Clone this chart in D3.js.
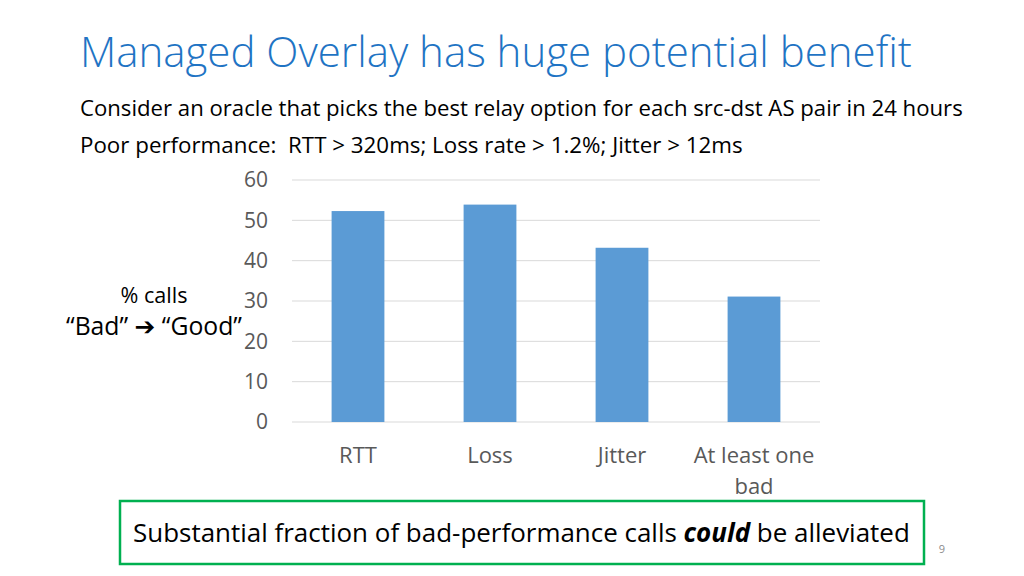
<!DOCTYPE html>
<html><head><meta charset="utf-8">
<script src="https://cdn.jsdelivr.net/npm/d3@7"></script>
<style>html,body{margin:0;padding:0;background:#fff;}svg{display:block;}</style>
</head><body>
<svg id="c" width="1024" height="576"></svg>
<script>
const categories = ["RTT", "Loss", "Jitter", "At least one bad"];
const values = [52.3, 53.9, 43.2, 31.1];
const yTicks = [0, 10, 20, 30, 40, 50, 60];
const title = "Managed Overlay has huge potential benefit";
const subtitle1 = "Consider an oracle that picks the best relay option for each src-dst AS pair in 24 hours";
const subtitle2 = "Poor performance:\u00A0 RTT > 320ms; Loss rate > 1.2%; Jitter > 12ms";

const svg = d3.select("#c");
const FONT = "'Open Sans', 'Noto Sans', sans-serif";

function fit(sel, targetW) {
  const node = sel.node();
  const w = node.getComputedTextLength();
  const fs = parseFloat(sel.attr("font-size"));
  sel.attr("font-size", (fs * targetW / w).toFixed(2));
  return sel;
}

// Title
fit(svg.append("text").attr("x", 80).attr("y", 67).attr("font-family", FONT)
  .attr("font-weight", 300).attr("font-size", 40).attr("fill", "#1F74C4").text(title), 832);
fit(svg.append("text").attr("x", 80).attr("y", 116).attr("font-family", FONT)
  .attr("font-size", 20).attr("fill", "#000").text(subtitle1), 883);
fit(svg.append("text").attr("x", 80).attr("y", 153).attr("font-family", FONT)
  .attr("font-size", 20).attr("fill", "#000").text(subtitle2), 663);

// Chart
const x = d3.scaleBand().domain(categories).range([292, 820]).paddingInner(0.6).paddingOuter(0.3);
const y = d3.scaleLinear().domain([0, 60]).range([422, 180]);

const g = svg.append("g");
g.selectAll("line.grid").data(yTicks).join("line").attr("class", "grid")
  .attr("x1", 292).attr("x2", 820).attr("y1", d => y(d)).attr("y2", d => y(d))
  .attr("stroke", "#D9D9D9").attr("stroke-width", 1);

const yAxis = g.append("g").attr("transform", "translate(292,0)")
  .call(d3.axisLeft(y).tickValues(yTicks).tickSize(0).tickPadding(24));
yAxis.select(".domain").remove();
yAxis.selectAll("text").attr("font-family", FONT).attr("font-size", 21).attr("fill", "#595959");

g.selectAll("rect.bar").data(values).join("rect").attr("class", "bar")
  .attr("x", (d, i) => x(categories[i])).attr("width", x.bandwidth())
  .attr("y", d => y(d)).attr("height", d => y(0) - y(d))
  .attr("fill", "#5B9BD5");

// category labels
const catFs = 22;
const catG = g.selectAll("text.cat").data(categories).join("text").attr("class", "cat")
  .attr("x", d => x(d) + x.bandwidth() / 2).attr("y", 463)
  .attr("text-anchor", "middle").attr("font-family", FONT).attr("font-size", catFs).attr("fill", "#595959");
catG.each(function(d) {
  const t = d3.select(this);
  if (d === "At least one bad") {
    t.append("tspan").attr("x", x(d) + x.bandwidth() / 2).text("At least one");
    t.append("tspan").attr("x", x(d) + x.bandwidth() / 2).attr("dy", 31).text("bad");
  } else t.text(d);
});

// y label
fit(svg.append("text").attr("x", 154).attr("y", 303).attr("text-anchor", "middle")
  .attr("font-family", FONT).attr("font-size", 20).attr("fill", "#000").text("% calls"), 67);
const yl2 = svg.append("text").attr("x", 66).attr("y", 335).attr("font-family", FONT)
  .attr("font-size", 20).attr("fill", "#000");
yl2.append("tspan").text("\u201CBad\u201D\u00A0");
yl2.append("tspan").attr("font-family", "DejaVu Sans").attr("font-weight", "bold").text("\u2794");
yl2.append("tspan").text("\u00A0\u201CGood\u201D");
fit(yl2, 176);

// Green box
svg.append("rect").attr("x", 120).attr("y", 501).attr("width", 804).attr("height", 63)
  .attr("fill", "none").attr("stroke", "#00B050").attr("stroke-width", 2.5);
const bt = svg.append("text").attr("x", 133).attr("y", 542).attr("font-family", FONT)
  .attr("font-size", 24).attr("fill", "#000");
bt.append("tspan").text("Substantial fraction of bad-performance calls\u00A0");
bt.append("tspan").attr("font-weight", "bold").attr("font-style", "italic").text("could");
bt.append("tspan").text("\u00A0be alleviated");
fit(bt, 777);

svg.append("text").attr("x", 942).attr("y", 553).attr("text-anchor", "middle")
  .attr("font-family", FONT).attr("font-size", 11).attr("fill", "#8C8C8C").text("9");
</script>
</body></html>
